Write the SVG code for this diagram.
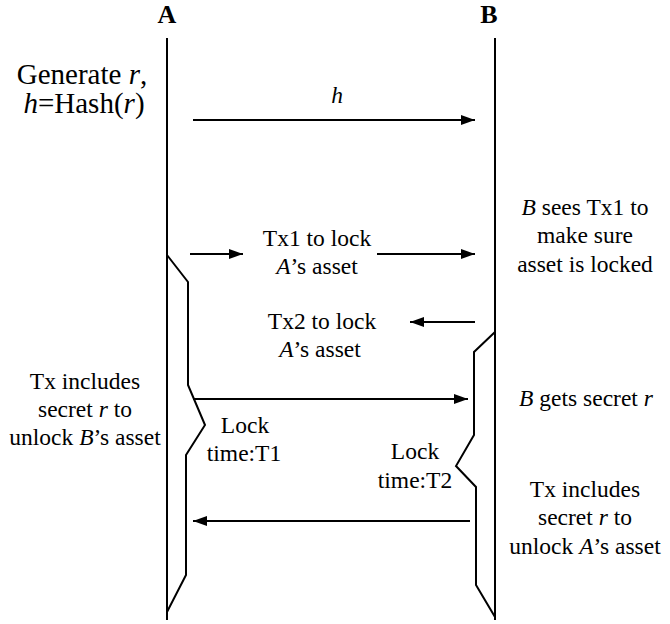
<svg xmlns="http://www.w3.org/2000/svg" width="670" height="624" viewBox="0 0 670 624" font-family="'Liberation Serif', 'Times New Roman', Times, serif">
<defs>
<style>
text{font-family:'Liberation Serif','Times New Roman',Times,serif;font-size:23.5px;fill:#000;text-anchor:middle}
.hd{font-weight:bold;font-size:26px}
.big{font-size:29px}
.i{font-style:italic}
.ln{stroke:#000;stroke-width:2;fill:none}
.ar{stroke:#000;stroke-width:2;fill:none;marker-end:url(#ah)}
</style>
<marker id="ah" markerUnits="userSpaceOnUse" markerWidth="16" markerHeight="12" refX="14" refY="5" orient="auto">
<path d="M0,0 L14,5 L0,10 z" fill="#000"/>
</marker>
</defs>
<rect width="670" height="624" fill="#fff"/>
<g id="lifeline-A">
<text class="hd" x="167" y="23">A</text>
<line class="ln" x1="167" y1="38" x2="167" y2="620"/>
<path class="ln" d="M167,255 L188,282 L188,385 L205,425 L186,455 L186,575 L167,612"/>
</g>
<g id="lifeline-B">
<text class="hd" x="489" y="23">B</text>
<line class="ln" x1="495" y1="38" x2="495" y2="620"/>
<path class="ln" d="M495,332 L474,352 L474,435 L456,466 L476,487 L476,585 L495,617"/>
</g>
<g id="note-generate">
<text class="big" x="82" y="84">Generate <tspan class="i">r</tspan>,</text>
<text class="big" x="84" y="113"><tspan class="i">h</tspan>=Hash(<tspan class="i">r</tspan>)</text>
</g>
<g id="note-tx1">
<text x="317" y="246">Tx1 to lock</text>
<text x="317" y="274"><tspan class="i">A</tspan>’s asset</text>
</g>
<g id="note-tx2">
<text x="322" y="329">Tx2 to lock</text>
<text x="320" y="357"><tspan class="i">A</tspan>’s asset</text>
</g>
<g id="note-bsees">
<text x="585" y="215"><tspan class="i">B</tspan> sees Tx1 to</text>
<text x="585" y="243">make sure</text>
<text x="585" y="272">asset is locked</text>
</g>
<g id="note-bgets">
<text x="586" y="406"><tspan class="i">B</tspan> gets secret <tspan class="i">r</tspan></text>
</g>
<g id="note-tx-left">
<text x="85" y="389">Tx includes</text>
<text x="85" y="417">secret <tspan class="i">r</tspan> to</text>
<text x="85" y="445">unlock <tspan class="i">B</tspan>’s asset</text>
</g>
<g id="note-tx-right">
<text x="585" y="497">Tx includes</text>
<text x="585" y="525">secret <tspan class="i">r</tspan> to</text>
<text x="585" y="554">unlock <tspan class="i">A</tspan>’s asset</text>
</g>
<g id="note-lock1">
<text x="245" y="433">Lock</text>
<text x="244" y="461">time:T1</text>
</g>
<g id="note-lock2">
<text x="415" y="459">Lock</text>
<text x="415" y="488">time:T2</text>
</g>
<g id="connectors">
<text class="i" x="337" y="103">h</text>
<line class="ar" x1="193" y1="120" x2="475" y2="120"/>
<line class="ar" x1="190" y1="254" x2="243" y2="254"/>
<line class="ar" x1="377" y1="254" x2="475" y2="254"/>
<line class="ar" x1="475" y1="322" x2="410" y2="322"/>
<line class="ar" x1="193" y1="399" x2="468" y2="399"/>
<line class="ar" x1="470" y1="521" x2="193" y2="521"/>
</g>
</svg>
